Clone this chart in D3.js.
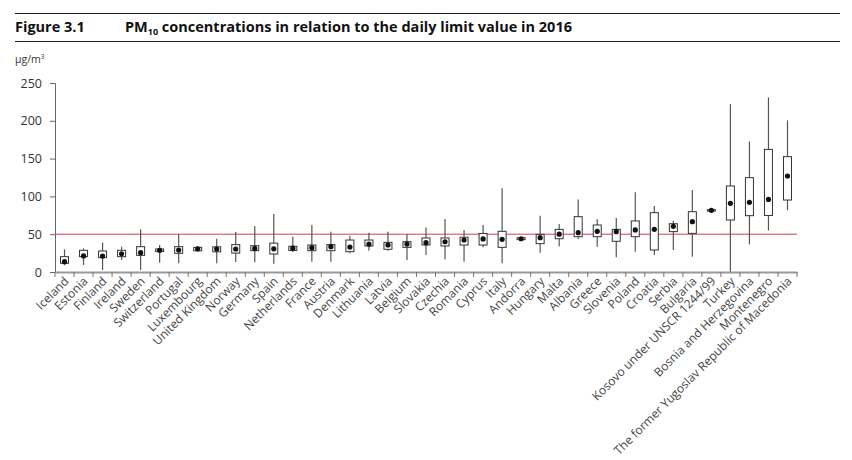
<!DOCTYPE html>
<html>
<head>
<meta charset="utf-8">
<script src="https://cdn.jsdelivr.net/npm/d3@7"></script>
<style>
  html, body { margin: 0; padding: 0; background: #fff; }
  svg { display: block; font-family: "Open Sans", "DejaVu Sans", sans-serif; }
</style>
</head>
<body>
<svg id="chart" width="852" height="460"></svg>
<script>
const categories = ["Iceland","Estonia","Finland","Ireland","Sweden","Switzerland","Portugal","Luxembourg","United Kingdom","Norway","Germany","Spain","Netherlands","France","Austria","Denmark","Lithuania","Latvia","Belgium","Slovakia","Czechia","Romania","Cyprus","Italy","Andorra","Hungary","Malta","Albania","Greece","Slovenia","Poland","Croatia","Serbia","Bulgaria","Kosovo under UNSCR 1244/99","Turkey","Bosnia and Herzegovina","Montenegro","The former Yugoslav Republic of Macedonia"];
const minVals = [9,9.3,2.6,16,2.6,12.3,11.5,27,11.5,13.2,13,11,26.5,13.7,13.7,24.7,28.2,28.2,15.9,22.5,16.8,13.7,32.6,11.5,42.3,25.6,34,43.7,33.5,19.4,26.9,22.5,29.1,20.3,80.2,0,36.6,54.8,81.8];
const q1Vals = [11.5,20.3,19,20.3,22,27,24.7,28,26.7,25,28.2,23.8,28.5,28.2,28.2,26.9,34.4,30,32.6,35.7,34.4,35.7,35.7,32.6,42.8,37.5,44,46.7,46.7,40.6,46.7,29.1,53.4,51.1,80.5,68.8,74.5,74.8,95.2];
const dotVals = [13.7,21.2,21,24,25.6,28.7,29,30.6,30.4,30.4,31.2,30.6,31.5,32.2,33.5,33,37,35.7,37,38.8,40,42.3,43.7,43.2,44,45.4,50,52,53.8,53.4,55.6,56.4,60.4,66.6,81.6,90.8,92.2,96,127];
const q3Vals = [20.3,28.7,27.8,28.7,33.5,30.4,33.5,32.6,33.3,36.2,34.8,38.2,34,35.7,36.2,42.3,42.3,39.2,40.1,45,45,45.9,51,53.8,45.4,49.8,56.4,73.2,62.2,56.4,67.5,78.5,63.9,79.8,82.6,113.8,124.8,162.2,152.6];
const maxVals = [30,31.3,39,33.5,56.4,35.7,50.3,34,44,52.9,60.8,76.7,46.7,62.2,53.4,48,52,53.4,50.3,59,70,55.6,62.2,110.7,46.3,74.5,63.5,96,69.7,71.4,105.4,87.3,67.9,108.5,82.9,222,172.6,231,200.5];
const yTicks = [0,50,100,150,200,250];
const limitValue = 50;

const data = categories.map((c,i)=>({name:c,min:minVals[i],q1:q1Vals[i],dot:dotVals[i],q3:q3Vals[i],max:maxVals[i]}));

const svg = d3.select("#chart");
const mLeft = 55, mRight = 797, mTop = 83, mBottom = 272;

const x = d3.scaleBand().domain(categories).range([mLeft, mRight]).paddingInner(0).paddingOuter(0);
const y = d3.scaleLinear().domain([0,250]).range([mBottom, mTop]);

// Header
svg.append("line").attr("x1",15).attr("x2",840).attr("y1",13.5).attr("y2",13.5).attr("stroke","#222").attr("stroke-width",1);
svg.append("line").attr("x1",15).attr("x2",840).attr("y1",41.5).attr("y2",41.5).attr("stroke","#222").attr("stroke-width",1);
svg.append("text").attr("x",15).attr("y",32).attr("font-size",14.5).attr("font-weight","bold").attr("fill","#111").text("Figure 3.1");
const t = svg.append("text").attr("x",125).attr("y",32).attr("font-size",14.5).attr("font-weight","bold").attr("fill","#111");
t.append("tspan").text("PM");
t.append("tspan").attr("font-size",9).attr("dy",3).text("10");
t.append("tspan").attr("dy",-3).text(" concentrations in relation to the daily limit value in 2016");

const u = svg.append("text").attr("x",15).attr("y",63).attr("font-size",10.5).attr("fill","#333");
u.append("tspan").text("µg/m");
u.append("tspan").attr("font-size",6.5).attr("dy",-4).text("3");

// Y axis
const yAxis = svg.append("g").attr("transform",`translate(${mLeft},0)`)
  .call(d3.axisLeft(y).tickValues(yTicks).tickSize(5).tickPadding(8));
yAxis.select(".domain").attr("stroke","#666");
yAxis.selectAll(".tick line").attr("stroke","#666");
yAxis.selectAll(".tick text").attr("font-size",12.5).attr("fill","#333").attr("font-family","'Open Sans', sans-serif");

// limit line
svg.append("line").attr("x1",mLeft).attr("x2",mRight).attr("y1",y(limitValue)).attr("y2",y(limitValue))
  .attr("stroke","#d0404a").attr("stroke-width",1);

// Boxes
const bw = 8;
const g = svg.append("g");
const items = g.selectAll("g.item").data(data).join("g").attr("class","item")
  .attr("transform",d=>`translate(${x(d.name)+x.bandwidth()/2},0)`);
items.append("line").attr("x1",0).attr("x2",0).attr("y1",d=>y(d.max)).attr("y2",d=>y(d.min))
  .attr("stroke","#555").attr("stroke-width",1.2);
items.append("rect").attr("x",-bw/2).attr("width",bw)
  .attr("y",d=>y(d.q3)).attr("height",d=>Math.max(1,y(d.q1)-y(d.q3)))
  .attr("fill","#fff").attr("stroke","#333").attr("stroke-width",1);
items.append("circle").attr("cx",0).attr("cy",d=>y(d.dot)).attr("r",2.6).attr("fill","#111");

// X axis
const xAxis = svg.append("g").attr("transform",`translate(0,${mBottom})`)
  .call(d3.axisBottom(x).tickSize(0).tickFormat(""));
xAxis.select(".domain").attr("stroke","#999").attr("stroke-width",2);
const bounds = d3.range(categories.length+1).map(i=>mLeft + i*x.bandwidth());
svg.append("g").selectAll("line").data(bounds).join("line")
  .attr("x1",d=>d).attr("x2",d=>d).attr("y1",mBottom).attr("y2",mBottom+5)
  .attr("stroke","#777").attr("stroke-width",1);

svg.append("g").selectAll("text").data(categories).join("text")
  .attr("transform",d=>`translate(${x(d)+x.bandwidth()/2+5},${mBottom+10}) rotate(-45)`)
  .attr("text-anchor","end").attr("font-size",12).attr("fill","#444")
  .text(d=>d);
</script>
</body>
</html>
